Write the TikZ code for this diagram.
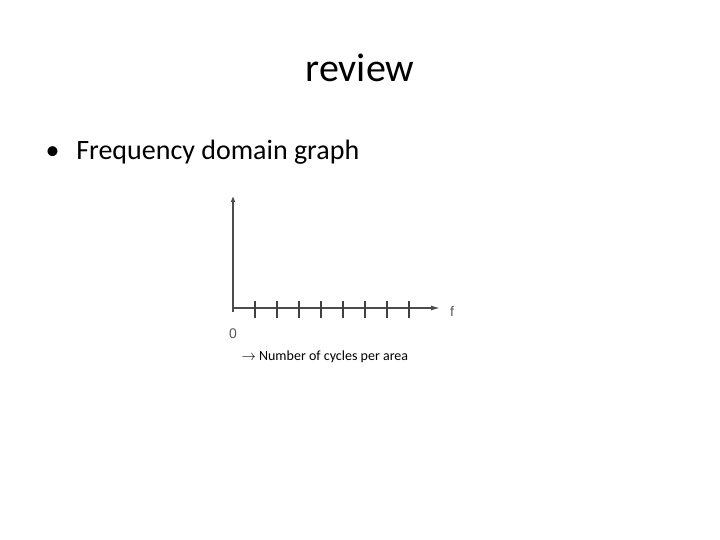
\documentclass[tikz,border=0pt]{standalone}
\usepackage{fontspec}
\setmainfont{Carlito}
\newfontfamily\axisfont{Liberation Sans}
\usetikzlibrary{arrows.meta}
\tikzset{
  axisline/.style={draw=black!70, line width=1.2pt},
  tickline/.style={draw=black!75, line width=1.6pt},
  axislabel/.style={font=\axisfont\fontsize{14}{14}\selectfont, text=black!65}
}
\begin{document}
\begin{tikzpicture}[x=1pt,y=-1pt]
\useasboundingbox (0,0) rectangle (720,540);
\node (title) at (360,68) {\fontsize{40}{40}\selectfont review};
\node[anchor=west] (bullet) at (42,152) {\fontsize{28}{28}\selectfont\textbullet\hspace{0.6em}Frequency domain graph};
% axes
\coordinate (origin) at (233,308);
\coordinate (ytop) at (233,196);
\coordinate (xend) at (440,308);
\draw[axisline, line width=2.2pt, -{Latex[length=6pt,width=5pt]}] (233,312) -- (ytop);
\draw[axisline, -{Latex[length=9pt,width=5pt]}] (origin) -- (xend);
\foreach \i in {0,...,7}
  \draw[tickline] (255+22*\i,301) -- (255+22*\i,318);
\node[axislabel] (flabel) at (452,311) {f};
\node[axislabel] (zero) at (233,334) {0};
\node[anchor=west] (caption) at (238,357) {\fontsize{14}{14}\selectfont$\rightarrow$ Number of cycles per area};
\end{tikzpicture}
\end{document}
